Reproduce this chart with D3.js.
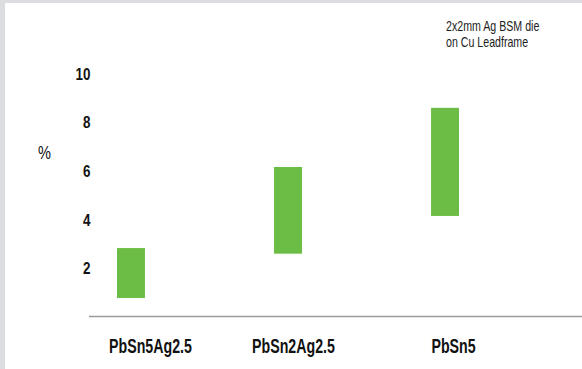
<!DOCTYPE html>
<html><head><meta charset="utf-8">
<script src="https://cdn.jsdelivr.net/npm/d3@7"></script>
<style>
html,body{margin:0;padding:0;background:#dcdde0;}
svg{display:block;}
</style></head>
<body>
<svg id="chart" width="582" height="369"></svg>
<script>
const categories = ["PbSn5Ag2.5", "PbSn2Ag2.5", "PbSn5"];
const lowValues  = [0.76, 2.58, 4.13];
const highValues = [2.81, 6.14, 8.57];
const yTicks = [2, 4, 6, 8, 10];
const yLabel = "%";
const noteLines = ["2x2mm Ag BSM die", "on Cu Leadframe"];

const W = 582, H = 369;
const svg = d3.select("#chart");
const font = "'Liberation Sans',Arial,sans-serif";

svg.append("rect").attr("x", 5).attr("y", 3).attr("width", W - 5).attr("height", H - 3).attr("fill", "#ffffff");

const y = d3.scaleLinear().domain([0, 10]).range([316.5, 73]);
const x = d3.scaleBand().domain(categories).range([38.5, 537.5]).paddingInner(0.822).paddingOuter(0.5);

// bars
svg.append("g").selectAll("rect").data(categories).join("rect")
  .attr("x", d => x(d))
  .attr("width", x.bandwidth())
  .attr("y", (d, i) => y(highValues[i]))
  .attr("height", (d, i) => y(lowValues[i]) - y(highValues[i]))
  .attr("fill", "#6cbd45");

// x baseline
svg.append("line").attr("x1", 89).attr("x2", W).attr("y1", y(0)).attr("y2", y(0))
  .attr("stroke", "#9a9a9a").attr("stroke-width", 1.6);

// y axis labels
const yAxis = d3.axisLeft(y).tickValues(yTicks).tickSize(0).tickPadding(0).tickFormat(d3.format("d"));
const gy = svg.append("g").attr("transform", "translate(90.5,0)").call(yAxis);
gy.select(".domain").remove();
gy.selectAll("text")
  .attr("font-family", font).attr("font-weight", "bold").attr("font-size", 17)
  .attr("fill", "#111").attr("x", 0).attr("dy", "0.36em")
  .attr("transform", "scale(0.79,1)");

// % label
svg.append("text").attr("transform", "translate(44.5,159) scale(0.81,1)").attr("text-anchor", "middle")
  .attr("font-family", font).attr("font-size", 18).attr("fill", "#111").text(yLabel);

// category labels
const labelShift = [19.5, 5.5, 8.5];
svg.append("g").selectAll("text").data(categories).join("text")
  .attr("transform", (d, i) => `translate(${x(d) + x.bandwidth() / 2 + labelShift[i]},353.3) scale(0.71,1)`)
  .attr("text-anchor", "middle")
  .attr("font-family", font).attr("font-weight", "bold").attr("font-size", 20)
  .attr("fill", "#111").text(d => d);

// note
svg.append("g").selectAll("text").data(noteLines).join("text")
  .attr("transform", (d, i) => `translate(446,${30.7 + i * 16}) scale(0.76,1)`)
  .attr("font-family", font).attr("font-size", 14).attr("fill", "#222").text(d => d);
</script>
</body></html>
